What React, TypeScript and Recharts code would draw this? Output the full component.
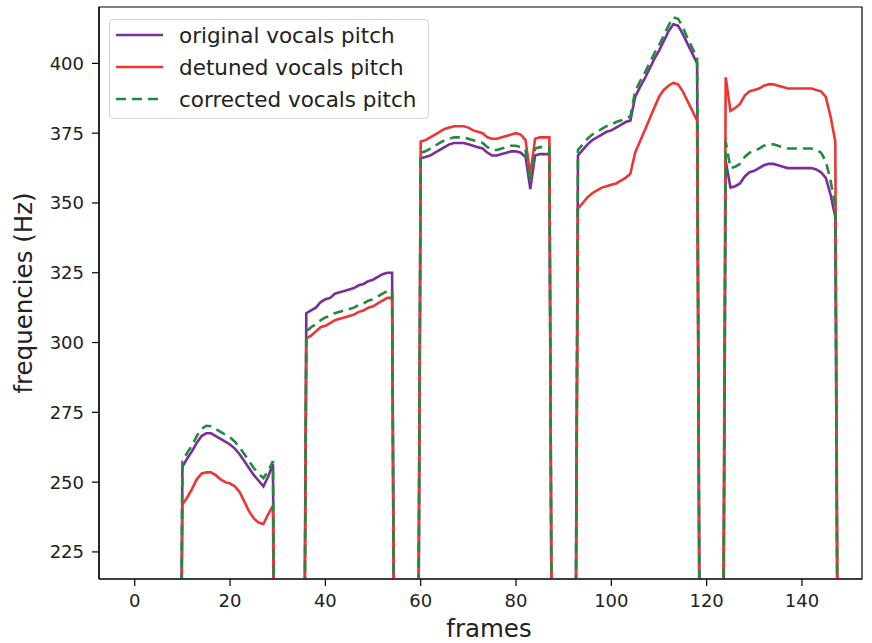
import { Legend, Line, LineChart, ReferenceArea, XAxis, YAxis } from 'recharts'

// pitch tracks per voiced segment, frames outside segments are 0 (unvoiced)
const segmentStarts = [10, 36, 60, 93, 124]
const lastFrame = 148

const originalPitch = [
  [255.5, 258.5, 261, 264, 266.5, 267.5, 267.5, 266.5, 265.5, 264.5, 263.5, 262, 260, 257.5, 255, 252.5, 250.5, 248.5, 252, 256.5],
  [310.5, 311.5, 312.5, 314.5, 315.5, 316, 317.5, 318, 318.5, 319, 319.5, 320.5, 321, 322, 322.5, 323.5, 324.5, 325, 325],
  [366, 366.5, 367, 368, 369, 370, 371, 371.5, 371.5, 371.5, 371, 370.5, 370, 369.5, 368, 367, 367, 367.5, 368, 368.5, 368.5, 368, 366.5, 355, 367, 367.5, 367.5, 367.5],
  [367, 369, 371, 372.5, 373.5, 374.5, 375.5, 376, 377, 378, 379, 379.5, 388, 391.5, 394.5, 398, 401.5, 404.5, 408, 411.5, 414, 413.5, 410.5, 407, 403.5, 400],
  [365, 355.5, 356, 357, 359.5, 361, 361.5, 362.5, 363.5, 364, 364, 363.5, 363, 362.5, 362.5, 362.5, 362.5, 362.5, 362.5, 362, 361, 359, 353, 345]
]

const detunedPitch = [
  [242, 244.5, 247.5, 251, 253, 253.5, 253.5, 252.5, 251, 250, 249.5, 248.5, 246.5, 243, 239.5, 237, 235.5, 235, 238.5, 241.5],
  [301.5, 302.5, 304, 305.5, 306, 307, 308, 308.5, 309, 309.5, 310, 311, 311.5, 312.5, 313, 314, 315, 316, 316],
  [372, 372.5, 373.5, 374.5, 375.5, 376.5, 377, 377.5, 377.5, 377.5, 377, 376, 375.5, 375, 373.5, 373, 373, 373.5, 374, 374.5, 375, 374.5, 372.5, 360, 373, 373.5, 373.5, 373.5],
  [348, 350, 352, 353.5, 354.5, 355.5, 356, 356.5, 357, 358, 359, 360.5, 368, 372, 376, 380, 384, 388, 390.5, 392, 393, 392.5, 390, 386.5, 383, 379.5],
  [395, 383, 384, 385.5, 388.5, 390, 390.5, 391, 392, 392.5, 392.5, 392, 391.5, 391, 391, 391, 391, 391, 391, 390.5, 390, 388, 381, 372]
]

const correctedPitch = [
  [257.5, 260.5, 263, 266.5, 269, 270.2, 270, 269, 268, 267, 266, 264.5, 262.5, 260, 257.5, 255, 253, 251.5, 254, 257.5],
  [304, 305.5, 306.5, 308, 309, 309.5, 310.5, 311, 311.5, 312, 312.5, 313.5, 314, 315, 315.5, 316.5, 317.5, 318.5, 318.5],
  [368, 368.5, 369.5, 370.5, 371.5, 372.5, 373, 373.5, 373.5, 373.5, 373, 372.5, 372, 371.5, 370, 369, 369, 369.5, 370, 370.5, 370.5, 370, 369, 357.5, 369.5, 370, 370, 370],
  [369, 371, 373, 374.5, 375.5, 376.5, 377.5, 378, 379, 379.5, 380.5, 381, 390, 393.5, 396.5, 400, 403.5, 406.5, 410, 413.5, 416.5, 416, 413, 409, 405.5, 402],
  [372, 362.5, 363, 364, 366.5, 368, 368.5, 369.5, 370.5, 371, 371, 370.5, 370, 369.5, 369.5, 369.5, 369.5, 369.5, 369.5, 369, 368, 365, 358, 349]
]

const xTicks = [0, 20, 40, 60, 80, 100, 120, 140]
const yTicks = [225, 250, 275, 300, 325, 350, 375, 400]
const xDomain = [-7.5, 152.6]
const yDomain = [215.3, 420.2]

const series = [
  { key: 'original', name: 'original vocals pitch', color: '#7a2e9c', dash: undefined },
  { key: 'detuned', name: 'detuned vocals pitch', color: '#ef3434', dash: undefined },
  { key: 'corrected', name: 'corrected vocals pitch', color: '#218a3c', dash: '10 6' }
]

function pitchAt(segments: number[][], frame: number): number {
  for (let i = 0; i < segmentStarts.length; i++) {
    const idx = frame - segmentStarts[i]
    if (idx >= 0 && idx < segments[i].length) return segments[i][idx]
  }
  return 0
}

const data: { frame: number; original: number; detuned: number; corrected: number }[] = []
for (let f = 0; f <= lastFrame; f++) {
  data.push({
    frame: f,
    original: pitchAt(originalPitch, f),
    detuned: pitchAt(detunedPitch, f),
    corrected: pitchAt(correctedPitch, f)
  })
}

const font = 'DejaVu Sans, sans-serif'
const tickStyle = { fill: '#222', fontSize: 18, fontFamily: font }
const axisStroke = { stroke: '#000', strokeWidth: 1.2 }

function PitchLegend() {
  return (
    <div
      style={{
        width: 320,
        height: 100,
        boxSizing: 'border-box',
        border: '1px solid #d4d4d4',
        borderRadius: 4,
        background: 'rgba(255,255,255,0.8)'
      }}
    >
      <svg width={318} height={98}>
        {series.map((s, i) => (
          <g key={s.key}>
            <line
              x1={6}
              x2={53}
              y1={15 + i * 32}
              y2={15 + i * 32}
              stroke={s.color}
              strokeWidth={2.6}
              strokeDasharray={s.dash}
            />
            <text x={69} y={15 + i * 32 + 7.5} fontSize={21.5} fontFamily={font} fill="#222">
              {s.name}
            </text>
          </g>
        ))}
      </svg>
    </div>
  )
}

export default function App() {
  return (
    <div style={{ position: 'absolute', left: 0, top: 0, width: 872, height: 643, background: '#fff' }}>
      <LineChart width={872} height={643} data={data} margin={{ top: 7, right: 10, bottom: 0, left: 0 }}>
        <XAxis
          dataKey="frame"
          type="number"
          domain={xDomain}
          ticks={xTicks}
          allowDataOverflow
          height={64}
          tick={tickStyle}
          tickSize={7}
          tickMargin={8}
          tickLine={axisStroke}
          axisLine={axisStroke}
          label={{
            content: () => (
              <text x={489} y={636.7} textAnchor="middle" fontSize={24.5} fontFamily={font} fill="#222">
                frames
              </text>
            )
          }}
        />
        <YAxis
          type="number"
          domain={yDomain}
          ticks={yTicks}
          allowDataOverflow
          width={99}
          tick={tickStyle}
          tickSize={7}
          tickMargin={8}
          tickLine={axisStroke}
          axisLine={axisStroke}
          label={{
            content: () => (
              <text
                x={31.7}
                y={293}
                transform="rotate(-90, 31.7, 293)"
                textAnchor="middle"
                fontSize={24.5}
                fontFamily={font}
                fill="#222"
              >
                frequencies (Hz)
              </text>
            )
          }}
        />
        <Legend
          layout="vertical"
          verticalAlign="middle"
          align="center"
          wrapperStyle={{ left: 109, top: 19, width: 320, height: 100 }}
          content={() => <PitchLegend />}
        />
        {series.map((s) => (
          <Line
            key={s.key}
            type="linear"
            dataKey={s.key}
            name={s.name}
            stroke={s.color}
            strokeWidth={2.6}
            strokeDasharray={s.dash}
            dot={false}
            activeDot={false}
            isAnimationActive={false}
          />
        ))}
        <ReferenceArea
          x1={xDomain[0]}
          x2={xDomain[1]}
          y1={yDomain[0]}
          y2={yDomain[1]}
          fill="none"
          stroke="#000"
          strokeWidth={1.2}
        />
      </LineChart>
    </div>
  )
}
